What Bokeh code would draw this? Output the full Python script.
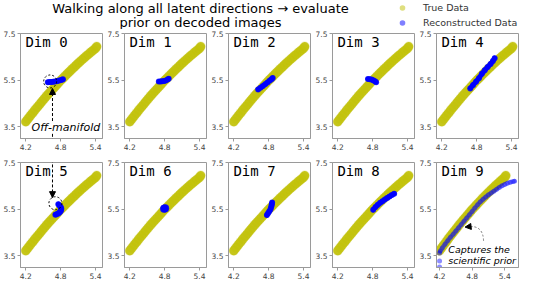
from bokeh.plotting import figure
from bokeh.layouts import column, row
from bokeh.models import (FixedTicker, Label, Arrow, NormalHead, Range1d,
                          ColumnDataSource, Legend, LegendItem)
from bokeh.embed import file_html
from bokeh.resources import INLINE

# ---------------- data ----------------
true_x = [4.20, 4.24, 4.28, 4.32, 4.36, 4.40, 4.44, 4.48, 4.52, 4.56, 4.60,
          4.64, 4.68, 4.72, 4.76, 4.80, 4.84, 4.88, 4.92, 4.96, 5.00, 5.04,
          5.08, 5.12, 5.16, 5.20, 5.24, 5.28, 5.32, 5.36, 5.40, 5.42]
true_y = [3.72, 3.85, 3.98, 4.10, 4.23, 4.35, 4.47, 4.59, 4.71, 4.83, 4.94,
          5.05, 5.16, 5.27, 5.38, 5.49, 5.59, 5.69, 5.79, 5.89, 5.99, 6.08,
          6.18, 6.27, 6.36, 6.45, 6.54, 6.62, 6.71, 6.79, 6.87, 6.95]

dim0_x = [4.58, 4.61, 4.64, 4.67, 4.70, 4.73, 4.76, 4.79, 4.82, 4.84]
dim0_y = [5.42, 5.43, 5.43, 5.44, 5.45, 5.46, 5.48, 5.50, 5.52, 5.54]
dim1_x = [4.70, 4.73, 4.76, 4.79, 4.82, 4.85, 4.87]
dim1_y = [5.45, 5.45, 5.46, 5.47, 5.49, 5.53, 5.57]
dim2_x = [4.62, 4.66, 4.70, 4.74, 4.78, 4.82, 4.85, 4.87]
dim2_y = [5.11, 5.18, 5.25, 5.33, 5.41, 5.49, 5.55, 5.60]
dim3_x = [4.72, 4.75, 4.78, 4.81, 4.84, 4.86]
dim3_y = [5.56, 5.55, 5.53, 5.50, 5.46, 5.42]
dim4_x = [4.69, 4.74, 4.79, 4.84, 4.89, 4.94, 4.99, 5.04, 5.08, 5.11]
dim4_y = [5.15, 5.30, 5.44, 5.59, 5.78, 5.93, 6.07, 6.20, 6.33, 6.45]
dim5_x = [4.76, 4.78, 4.80, 4.81, 4.81, 4.80, 4.78, 4.76, 4.73, 4.71]
dim5_y = [5.72, 5.66, 5.60, 5.54, 5.48, 5.42, 5.36, 5.32, 5.29, 5.27]
dim6_x = [4.79, 4.80, 4.81]
dim6_y = [5.52, 5.53, 5.54]
dim7_x = [4.77, 4.79, 4.81, 4.83, 4.84, 4.85, 4.855, 4.86]
dim7_y = [5.25, 5.33, 5.41, 5.49, 5.57, 5.65, 5.72, 5.79]
dim8_x = [4.81, 4.85, 4.89, 4.93, 4.97, 5.01, 5.05, 5.09, 5.13, 5.17]
dim8_y = [5.48, 5.60, 5.70, 5.78, 5.85, 5.92, 5.99, 6.05, 6.11, 6.17]
dim9_x = [4.21, 4.25, 4.30, 4.35, 4.40, 4.45, 4.50, 4.55, 4.60,
          4.65, 4.70, 4.75, 4.80, 4.85, 4.90, 4.95, 5.00, 5.05, 5.10, 5.15,
          5.20, 5.25, 5.30, 5.35, 5.40, 5.45, 5.50, 5.55, 5.58]
dim9_y = [3.70, 3.84, 4.00, 4.15, 4.30, 4.43, 4.57, 4.71, 4.85,
          4.99, 5.13, 5.27, 5.41, 5.56, 5.69, 5.82, 5.93, 6.03, 6.12, 6.20,
          6.28, 6.36, 6.44, 6.51, 6.57, 6.62, 6.66, 6.69, 6.71]
dim9_outlier_x = [4.20, 4.20, 4.20]
dim9_outlier_y = [3.62, 3.28, 3.02]

recon_x = [dim0_x, dim1_x, dim2_x, dim3_x, dim4_x, dim5_x, dim6_x, dim7_x, dim8_x, dim9_x]
recon_y = [dim0_y, dim1_y, dim2_y, dim3_y, dim4_y, dim5_y, dim6_y, dim7_y, dim8_y, dim9_y]
panel_titles = ["Dim 0", "Dim 1", "Dim 2", "Dim 3", "Dim 4",
                "Dim 5", "Dim 6", "Dim 7", "Dim 8", "Dim 9"]
x_ticks = [4.2, 4.8, 5.4]
y_ticks = [3.5, 5.5, 7.5]
x_limits = (4.11, 5.52)
x_limits_last = (4.143, 5.654)
y_limits = (3.0, 7.51)

title_lines = ["Walking along all latent directions \u2192 evaluate",
               "prior on decoded images"]
legend_labels = ["True Data", "Reconstructed Data"]

YELLOW = "#bfbf00"
BLUE = "#0000ff"
FRAME = "#9a9a9a"
TXT = "#333333"

W_PANEL = 104
FRAME_H = 105


def make_panel(i):
    r = i // 5
    xr = x_limits_last if i == 9 else x_limits
    top, bottom = 4, (20 if r == 0 else 16)
    p = figure(width=W_PANEL, height=top + FRAME_H + bottom,
               x_range=Range1d(*xr), y_range=Range1d(*y_limits),
               output_backend="svg", toolbar_location=None,
               min_border_left=17, min_border_right=2,
               min_border_top=top, min_border_bottom=bottom)
    p.grid.visible = False
    p.outline_line_color = FRAME
    p.outline_line_width = 1
    p.background_fill_color = "white"
    p.border_fill_color = "white"
    p.xaxis.ticker = FixedTicker(ticks=x_ticks)
    p.yaxis.ticker = FixedTicker(ticks=y_ticks)
    for ax in (p.xaxis, p.yaxis):
        ax.axis_line_color = FRAME
        ax.major_tick_line_color = FRAME
        ax.major_tick_in = 0
        ax.major_tick_out = 3
        ax.minor_tick_line_color = None
        ax.major_label_text_font = "DejaVu Sans"
        ax.major_label_text_font_size = "7.5px"
        ax.major_label_text_color = "#444444"
        ax.major_label_standoff = 2

    # true data: dense translucent band
    p.line(true_x, true_y, line_width=9, line_color=YELLOW, line_alpha=0.85,
           line_cap="round", line_join="round")
    p.scatter(true_x, true_y, size=10, fill_color=YELLOW, fill_alpha=0.3,
              line_color=None)
    # reconstructed data
    if i == 9:
        p.line(recon_x[i], recon_y[i], line_width=4.5, line_color=BLUE,
               line_alpha=0.5, line_cap="round", line_join="round")
        p.scatter(recon_x[i], recon_y[i], size=5, fill_color=BLUE,
                  fill_alpha=0.3, line_color=None)
        p.scatter(dim9_outlier_x, dim9_outlier_y, size=5, fill_color=BLUE,
                  fill_alpha=0.45, line_color=None)
    else:
        p.line(recon_x[i], recon_y[i], line_width=5, line_color=BLUE,
               line_alpha=1.0, line_cap="round", line_join="round")
        p.scatter(recon_x[i], recon_y[i], size=6 if i != 6 else 8,
                  fill_color=BLUE, fill_alpha=0.8, line_color=None)

    p.add_layout(Label(x=xr[0] + 0.06 * (xr[1] - xr[0]), y=7.47,
                       text=panel_titles[i], text_font="DejaVu Sans Mono",
                       text_font_size="14px", text_baseline="top",
                       text_align="left", text_color="black"))
    return p


panels = [make_panel(i) for i in range(10)]

# ---- annotations: off-manifold (Dim 0 / Dim 5) ----
p0, p5, p9 = panels[0], panels[5], panels[9]
p0.scatter([4.62], [5.45], size=13, fill_color=None, line_color="black",
           line_dash="2 2", line_width=1)
p0.add_layout(Arrow(x_start=4.66, y_start=3.75, x_end=4.66, y_end=5.15,
                    line_dash="3 2", line_width=1, line_color="black",
                    end=NormalHead(size=6, fill_color="black", line_color="black")))
p0.add_layout(Arrow(x_start=4.66, y_start=3.2, x_end=4.66, y_end=2.0,
                    line_dash="3 2", line_width=1, line_color="black", end=None))
p0.add_layout(Label(x=4.89, y=3.47, text="Off-manifold", text_align="center",
                    text_baseline="middle", text_font="DejaVu Sans",
                    text_font_style="italic", text_font_size="11px",
                    text_color="black"))
p5.scatter([4.71], [5.76], size=13, fill_color=None, line_color="black",
           line_dash="2 2", line_width=1)
p5.add_layout(Arrow(x_start=4.66, y_start=8.5, x_end=4.66, y_end=6.0,
                    line_dash="3 2", line_width=1, line_color="black",
                    end=NormalHead(size=6, fill_color="black", line_color="black")))

# ---- annotation: captures the scientific prior (Dim 9) ----
p9.quadratic(x0=[5.01], y0=[4.15], x1=[4.71], y1=[4.745], cx=[5.0], cy=[4.85],
             line_color="#777777", line_dash="2 2", line_width=1)
p9.add_layout(Arrow(x_start=4.73, y_start=4.75, x_end=4.67, y_end=4.735,
                    line_width=1, line_color="black",
                    end=NormalHead(size=6, fill_color="black", line_color="black")))
p9.add_layout(Label(x=4.36, y=3.76, text="Captures the", text_align="left",
                    text_baseline="middle", text_font="DejaVu Sans",
                    text_font_style="italic", text_font_size="9.5px",
                    text_color="black"))
p9.add_layout(Label(x=4.36, y=3.30, text="scientific prior", text_align="left",
                    text_baseline="middle", text_font="DejaVu Sans",
                    text_font_style="italic", text_font_size="9.5px",
                    text_color="black"))

# ---------------- header (title + legend) ----------------
HW, HH = 5 * W_PANEL, 29
header = figure(width=HW, height=HH, x_range=Range1d(0, HW), y_range=Range1d(0, HH),
                output_backend="svg", toolbar_location=None,
                x_axis_type=None, y_axis_type=None, min_border=0)
header.grid.visible = False
header.outline_line_color = None
header.add_layout(Label(x=200, y=21, text=title_lines[0], text_align="center",
                        text_baseline="middle", text_font="DejaVu Sans",
                        text_font_size="13px", text_color="black"))
header.add_layout(Label(x=200, y=7, text=title_lines[1], text_align="center",
                        text_baseline="middle", text_font="DejaVu Sans",
                        text_font_size="13px", text_color="black"))
# legend proxies (kept outside the visible header range)
proxy = ColumnDataSource(data=dict(x=[-100], y=[-100]))
r_true = header.scatter("x", "y", source=proxy, fill_color=YELLOW, fill_alpha=0.5,
                        line_color=None, size=5)
r_rec = header.scatter("x", "y", source=proxy, fill_color=BLUE, fill_alpha=0.5,
                       line_color=None, size=5)
legend = Legend(items=[LegendItem(label=legend_labels[0], renderers=[r_true]),
                       LegendItem(label=legend_labels[1], renderers=[r_rec])],
                location=(395, -1), orientation="vertical",
                label_text_font="DejaVu Sans", label_text_font_size="9.5px",
                label_text_color=TXT, glyph_height=15, glyph_width=14,
                label_height=15, label_standoff=14, spacing=0, padding=0,
                margin=0, border_line_color=None, background_fill_alpha=0)
header.add_layout(legend)

layout = column(header, row(*panels[:5]), row(*panels[5:]))
open("out.html", "w").write(file_html(layout, INLINE))
